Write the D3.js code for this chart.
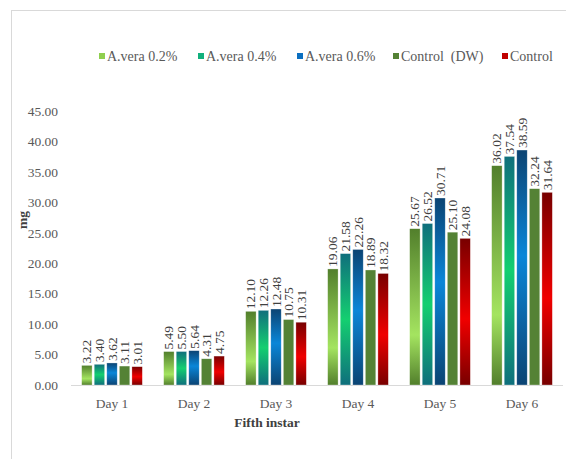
<!DOCTYPE html>
<html>
<head>
<meta charset="utf-8">
<script src="https://cdn.jsdelivr.net/npm/d3@7"></script>
<style>
  body { margin: 0; background: #fff; }
  text { font-family: "Liberation Serif", "Times New Roman", serif; }
</style>
</head>
<body>
<script>
let w = 566;
let h = 459;

let days = ["Day 1", "Day 2", "Day 3", "Day 4", "Day 5", "Day 6"];
let seriesNames = ["A.vera 0.2%", "A.vera 0.4%", "A.vera 0.6%", "Control  (DW)", "Control"];
let vera02 = [3.22, 5.49, 12.10, 19.06, 25.67, 36.02];
let vera04 = [3.40, 5.50, 12.26, 21.58, 26.52, 37.54];
let vera06 = [3.62, 5.64, 12.48, 22.26, 30.71, 38.59];
let controlDW = [3.11, 4.31, 10.75, 18.89, 25.10, 32.24];
let control = [3.01, 4.75, 10.31, 18.32, 24.08, 31.64];
let yTicks = [0, 5, 10, 15, 20, 25, 30, 35, 40, 45];

let seriesValues = [vera02, vera04, vera06, controlDW, control];

// per-bar gradient: dark top, light at "mid", dark bottom
let grads = [
  { id: "g0", dark: "#527f2c", light: "#a4e460", mid: 0.68, legend: "#8fcf4f" },
  { id: "g1", dark: "#0f6f7c", light: "#14cf70", mid: 0.5, legend: "#11b07c" },
  { id: "g2", dark: "#0b4473", light: "#0a86d8", mid: 0.45, legend: "#0b6fc0" },
  { id: "g3", dark: "#548235", light: "#548235", mid: 0.5, legend: "#548235" },
  { id: "g4", dark: "#780000", light: "#f00000", mid: 0.55, legend: "#c00000" }
];

let fs = 13.5;

let svg = d3.select("body")
            .append("svg")
            .attr("width", w)
            .attr("height", h);

// outer frame
svg.append("rect")
   .attr("x", 11.5).attr("y", 10.5)
   .attr("width", 570).attr("height", 470)
   .attr("fill", "none")
   .attr("stroke", "#d9d9d9");

let x0 = d3.scaleBand()
           .domain(days)
           .range([71, 563])
           .paddingInner(0.26)
           .paddingOuter(0.13);

let x1 = d3.scaleBand()
           .domain(d3.range(seriesNames.length))
           .range([0, x0.bandwidth()])
           .paddingInner(0.17);

let y = d3.scaleLinear()
          .domain([0, 45])
          .range([385, 111]);

let defs = svg.append("defs");
grads.forEach(g => {
  let lg = defs.append("linearGradient")
               .attr("id", g.id)
               .attr("x1", 0).attr("x2", 0)
               .attr("y1", 0).attr("y2", 1);
  lg.append("stop").attr("offset", 0).attr("stop-color", g.dark);
  lg.append("stop").attr("offset", g.mid).attr("stop-color", g.light);
  lg.append("stop").attr("offset", 1).attr("stop-color", g.dark);
});

// y axis labels
let yAxis = d3.axisLeft(y)
              .tickValues(yTicks)
              .tickFormat(d3.format(".2f"))
              .tickSize(0)
              .tickPadding(0);
let ya = svg.append("g")
            .attr("transform", "translate(58,0)")
            .call(yAxis);
ya.select(".domain").remove();
ya.selectAll("text")
  .attr("font-size", fs)
  .attr("fill", "#595959")
  .style("font-family", "Liberation Serif, serif");

// baseline
svg.append("line")
   .attr("x1", 71).attr("x2", 563)
   .attr("y1", y(0) + 0.5).attr("y2", y(0) + 0.5)
   .attr("stroke", "#d9d9d9");

// x axis labels
let xAxis = d3.axisBottom(x0).tickSize(0).tickPadding(0);
let xa = svg.append("g")
            .attr("transform", "translate(0,398)")
            .call(xAxis);
xa.select(".domain").remove();
xa.selectAll("text")
  .attr("font-size", fs)
  .attr("fill", "#595959")
  .style("font-family", "Liberation Serif, serif");

// bars
let groups = svg.selectAll("g.day")
                .data(days)
                .enter()
                .append("g")
                .attr("class", "day")
                .attr("transform", d => "translate(" + x0(d) + ",0)");

groups.selectAll("rect")
      .data((d, i) => seriesValues.map((s, k) => ({ k: k, v: s[i] })))
      .enter()
      .append("rect")
      .attr("x", d => x1(d.k))
      .attr("y", d => y(d.v))
      .attr("width", x1.bandwidth())
      .attr("height", d => y(0) - y(d.v))
      .attr("fill", d => "url(#" + grads[d.k].id + ")")
      .attr("stroke", "rgba(255,255,255,0.5)")
      .attr("stroke-width", 0.6);

// value labels, rotated
groups.selectAll("text.val")
      .data((d, i) => seriesValues.map((s, k) => ({ k: k, v: s[i] })))
      .enter()
      .append("text")
      .attr("class", "val")
      .attr("transform", d => "translate(" + (x1(d.k) + x1.bandwidth() / 2 + 4.5) + "," + (y(d.v) - 2) + ") rotate(-90)")
      .attr("font-size", fs)
      .attr("fill", "#404040")
      .text(d => d.v.toFixed(2));

// axis titles
svg.append("text")
   .attr("transform", "translate(27,220) rotate(-90)")
   .attr("text-anchor", "middle")
   .attr("font-size", fs)
   .attr("font-weight", "bold")
   .attr("fill", "#404040")
   .text("mg");

svg.append("text")
   .attr("x", 267).attr("y", 427)
   .attr("text-anchor", "middle")
   .attr("font-size", fs)
   .attr("font-weight", "bold")
   .attr("fill", "#404040")
   .text("Fifth instar");

// legend
let legendX = [99, 198, 297, 393, 502];
let legend = svg.selectAll("g.leg")
                .data(seriesNames)
                .enter()
                .append("g")
                .attr("class", "leg")
                .attr("transform", (d, i) => "translate(" + legendX[i] + ",53)");
legend.append("rect")
      .attr("width", 6).attr("height", 6)
      .attr("fill", (d, i) => grads[i].legend);
legend.append("text")
      .attr("x", 8).attr("y", 8)
      .attr("font-size", 14)
      .attr("fill", "#595959")
      .style("white-space", "pre")
      .text(d => d);
</script>
</body>
</html>
